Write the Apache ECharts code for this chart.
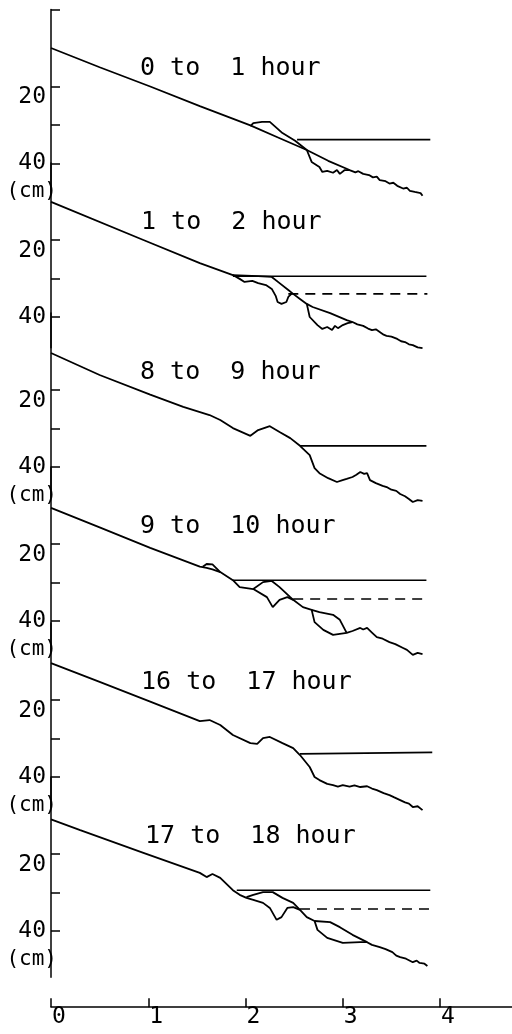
<!DOCTYPE html>
<html>
<head>
<meta charset="utf-8">
<script src="https://cdn.jsdelivr.net/npm/echarts@6/dist/echarts.min.js"></script>
<style>
  html, body { margin: 0; padding: 0; background: #fff; }
  #chart { width: 512px; height: 1034px; }
</style>
</head>
<body>
<div id="chart"></div>
<script>
// 各段の見出し
var titles = ['0 to  1 hour', '1 to  2 hour', '8 to  9 hour', '9 to  10 hour', '16 to  17 hour', '17 to  18 hour'];
var xTicks = [0, 1, 2, 3, 4];
var yTicks = [20, 30, 40];
var yLabels = [20, 40];
var unitAt = 47.3;   // "(cm)" の位置

// panel 1 : 0 to 1 hour
var p1Main = [[0,10.0],[0.5,15.0],[1.02,20.0],[1.53,25.1],[2.05,30.1],[2.34,33.3],[2.63,36.5],[2.85,39.3],[3.07,41.7],
  [3.13,42.3],[3.16,42.0],[3.21,42.7],[3.27,43.0],[3.31,43.6],[3.35,43.4],[3.38,44.3],[3.44,44.6],[3.48,45.2],[3.52,45.0],
  [3.56,45.8],[3.62,46.5],[3.66,46.3],[3.69,47.1],[3.74,47.4],[3.76,47.9],[3.8,47.7],[3.82,48.4]];
var p1Loop = [[2.05,30.3],[2.08,29.5],[2.17,29.2],[2.25,29.2],[2.38,32.1],[2.51,34.1],[2.63,36.5],[2.68,39.6],[2.76,40.9],
  [2.79,42.2],[2.84,41.9],[2.9,42.4],[2.94,41.7],[2.97,42.7],[3.02,41.7],[3.07,41.7]];
var p1Level = [[2.53,33.8],[3.9,33.8]];

// panel 2 : 1 to 2 hour
var p2Main = [[0,10.1],[0.95,20.0],[1.53,26.0],[1.87,29.1],[1.94,30.1],[1.99,30.9],[2.07,30.6],[2.13,31.2],[2.21,31.7],
  [2.27,32.7],[2.31,34.5],[2.33,36.1],[2.37,36.6],[2.42,36.1],[2.44,34.8],[2.48,33.8],[2.56,35.3],[2.63,36.6],[2.69,37.4],
  [2.87,39.0],[3.04,40.8],[3.10,41.3],[3.15,41.9],[3.21,42.3],[3.26,43.0],[3.30,43.4],[3.34,43.2],[3.38,43.9],[3.42,44.6],
  [3.45,44.9],[3.5,45.1],[3.56,45.7],[3.6,46.3],[3.64,46.5],[3.68,47.1],[3.72,47.3],[3.77,47.9],[3.82,48.1]];
var p2LoopA = [[1.87,29.1],[2.13,29.4],[2.27,29.6],[2.35,31.2],[2.44,33.0],[2.48,33.8]];
var p2LoopB = [[2.63,36.6],[2.66,40.0],[2.74,42.1],[2.79,43.1],[2.84,42.6],[2.89,43.4],[2.92,42.3],[2.95,42.9],[3.0,42.1],
  [3.05,41.6],[3.10,41.3]];
var p2Level = [[1.87,29.4],[3.86,29.4]];
var p2Dash = [[2.44,34.0],[3.87,34.0]];

// panel 3 : 8 to 9 hour
var p3Main = [[0,10.4],[0.5,16.1],[1.02,21.2],[1.36,24.4],[1.63,26.5],[1.74,27.8],[1.87,29.9],[2.05,31.9],[2.13,30.4],
  [2.25,29.4],[2.35,30.9],[2.46,32.5],[2.56,34.5],[2.66,36.9],[2.71,40.3],[2.76,41.6],[2.85,42.9],[2.94,43.9],[2.99,43.5],
  [3.04,43.1],[3.1,42.6],[3.14,42.0],[3.18,41.3],[3.22,41.8],[3.25,41.6],[3.28,43.4],[3.34,44.2],[3.41,44.9],[3.46,45.3],
  [3.5,45.9],[3.55,46.2],[3.59,47.0],[3.64,47.6],[3.68,48.3],[3.72,49.1],[3.77,48.6],[3.82,48.8]];
var p3Level = [[2.56,34.5],[3.86,34.5]];

// panel 4 : 9 to 10 hour
var p4Main = [[0,10.6],[0.5,15.7],[1.02,21.0],[1.53,25.9],[1.6,26.2],[1.66,26.6],[1.74,27.3],[1.87,29.4],[1.94,31.2],
  [2.08,31.7],[2.22,33.8],[2.28,36.4],[2.35,34.5],[2.43,33.8],[2.49,34.5],[2.59,36.4],[2.68,37.1],[2.71,40.3],[2.8,42.3],
  [2.9,43.6],[3.04,43.1],[3.1,42.6],[3.18,41.8],[3.21,42.2],[3.25,41.8],[3.3,43.0],[3.35,44.2],[3.41,44.6],[3.48,45.5],
  [3.54,46.0],[3.62,47.0],[3.66,47.5],[3.72,48.8],[3.77,48.3],[3.82,48.6]];
var p4LoopA = [[1.56,25.9],[1.6,25.2],[1.66,25.3],[1.74,27.3]];
var p4LoopB = [[2.08,31.7],[2.18,29.9],[2.27,29.6],[2.35,31.2],[2.46,33.8],[2.49,34.5]];
var p4LoopC = [[2.68,37.1],[2.76,37.7],[2.9,38.4],[2.97,39.7],[3.04,43.1]];
var p4Level = [[1.87,29.4],[3.86,29.4]];
var p4Dash = [[2.49,34.3],[3.87,34.3]];

// panel 5 : 16 to 17 hour
var p5Main = [[0,10.4],[0.5,15.3],[1.02,20.4],[1.53,25.5],[1.63,25.2],[1.74,26.5],[1.87,29.1],[2.05,31.2],[2.12,31.4],
  [2.18,29.9],[2.25,29.6],[2.38,31.2],[2.49,32.5],[2.56,34.3],[2.66,37.4],[2.71,40.0],[2.76,40.8],[2.84,41.8],[2.9,42.1],
  [2.95,42.5],[3.0,42.1],[3.07,42.5],[3.12,42.2],[3.18,42.6],[3.25,42.4],[3.3,43.0],[3.35,43.4],[3.42,44.2],[3.48,44.7],
  [3.53,45.3],[3.59,46.0],[3.64,46.6],[3.68,46.9],[3.72,47.8],[3.77,47.6],[3.82,48.6]];
var p5Level = [[2.56,34.0],[3.92,33.6]];

// panel 6 : 17 to 18 hour
var p6Main = [[0,11.0],[0.3,13.8],[0.95,19.7],[1.53,24.9],[1.6,26.0],[1.66,25.2],[1.74,26.2],[1.87,29.4],[1.94,30.6],
  [2.01,31.4],[2.08,31.9],[2.18,32.7],[2.25,34.0],[2.32,37.1],[2.37,36.4],[2.43,34.0],[2.49,33.8],[2.56,34.5],[2.63,36.4],
  [2.71,37.4],[2.74,39.7],[2.84,41.8],[3.0,43.1],[3.18,42.9],[3.25,42.9],[3.3,43.6],[3.38,44.2],[3.44,44.7],[3.51,45.5],
  [3.55,46.4],[3.59,46.8],[3.65,47.2],[3.72,48.1],[3.76,47.7],[3.79,48.3],[3.84,48.5],[3.87,49.1]];
var p6LoopA = [[2.01,31.2],[2.08,30.6],[2.18,29.9],[2.28,29.9],[2.38,31.4],[2.49,32.7],[2.56,34.5]];
var p6LoopB = [[2.71,37.4],[2.87,37.7],[2.97,39.0],[3.1,41.0],[3.25,42.9]];
var p6Level = [[1.91,29.4],[3.9,29.4]];
var p6Dash = [[2.56,34.3],[3.92,34.3]];

var panels = [
  { curves: [p1Main, p1Loop], level: p1Level, dash: null, ticks: [0].concat(yTicks), labels: yLabels.concat([unitAt]) },
  { curves: [p2Main, p2LoopA, p2LoopB], level: p2Level, dash: p2Dash, ticks: yTicks, labels: yLabels },
  { curves: [p3Main], level: p3Level, dash: null, ticks: yTicks, labels: yLabels.concat([unitAt]) },
  { curves: [p4Main, p4LoopA, p4LoopB, p4LoopC], level: p4Level, dash: p4Dash, ticks: yTicks, labels: yLabels.concat([unitAt]) },
  { curves: [p5Main], level: p5Level, dash: null, ticks: yTicks, labels: yLabels.concat([unitAt]) },
  { curves: [p6Main, p6LoopA, p6LoopB], level: p6Level, dash: p6Dash, ticks: yTicks, labels: yLabels.concat([unitAt]) }
];

var font = '"DejaVu Sans Mono", monospace';
var tops = [9.5, 163, 313, 467, 623, 777];
var pxPerCm = 3.85;
var titleX = [140, 141, 140, 140, 141, 145];

var myChart = echarts.init(document.getElementById('chart'));
var grid = [], xAxis = [], yAxis = [], series = [], graphic = [];

panels.forEach(function (p, k) {
  var last = k === panels.length - 1;
  var yMax = last ? 52 : 48;
  grid.push({ left: 51, right: 0, top: tops[k], height: yMax * pxPerCm });
  xAxis.push({
    type: 'value', gridIndex: k, min: 0, max: 4.74, show: last,
    position: 'bottom', offset: 30,
    axisLine: { onZero: false, lineStyle: { color: '#000', width: 1.5 } },
    axisTick: { inside: true, length: 9, customValues: xTicks, lineStyle: { color: '#000', width: 1.5 } },
    axisLabel: { customValues: xTicks, margin: -2, color: '#000', fontFamily: font, fontSize: 23, padding: [0, 0, 0, 16] },
    splitLine: { show: false }
  });
  yAxis.push({
    type: 'value', gridIndex: k, inverse: true, min: 0, max: yMax,
    axisLine: { show: true, onZero: false, lineStyle: { color: '#000', width: 1.5 } },
    axisTick: { show: true, inside: true, length: 9, customValues: p.ticks, lineStyle: { color: '#000', width: 1.5 } },
    axisLabel: {
      customValues: p.labels, margin: -6, color: '#000',
      formatter: function (v) {
        if (v > 45) return '{u|(cm)}';
        if (v === 20) return '{lo|20}';
        return '{n|' + v + '}';
      },
      rich: {
        n: { fontFamily: font, fontSize: 23, color: '#000', padding: [0, 11, 0, 0] },
        lo: { fontFamily: font, fontSize: 23, color: '#000', padding: [22, 11, 0, 0] },
        u: { fontFamily: font, fontSize: 21, color: '#000' }
      }
    },
    splitLine: { show: false }
  });
  p.curves.forEach(function (c) {
    series.push({
      type: 'line', xAxisIndex: k, yAxisIndex: k, data: c, symbol: 'none', clip: false,
      lineStyle: { color: '#000', width: 1.8 }
    });
  });
  series.push({
    type: 'line', xAxisIndex: k, yAxisIndex: k, data: p.level, symbol: 'none', clip: false,
    lineStyle: { color: '#000', width: 1.6 }
  });
  if (p.dash) {
    series.push({
      type: 'line', xAxisIndex: k, yAxisIndex: k, data: p.dash, symbol: 'none', clip: false,
      lineStyle: { color: '#000', width: 1.6, type: [10, 7] }
    });
  }
  graphic.push({
    type: 'text', x: titleX[k], y: tops[k] + 59,
    style: { text: titles[k], font: '25px ' + font, fill: '#000', verticalAlign: 'middle' }
  });
});

var option = {
  animation: false,
  backgroundColor: '#fff',
  grid: grid,
  xAxis: xAxis,
  yAxis: yAxis,
  series: series,
  graphic: graphic
};
myChart.setOption(option);
</script>
</body>
</html>
